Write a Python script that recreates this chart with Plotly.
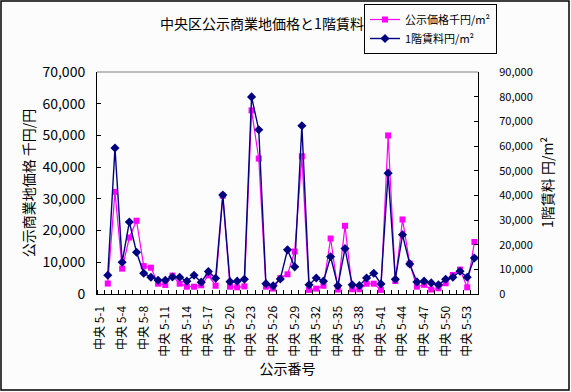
import plotly.graph_objects as go

# ---- data ----
lot_numbers = [1, 2, 3, 4, 5, 6] + list(range(8, 55))
categories = [f"中央 5-{n}" for n in lot_numbers]

land_price = [None, 3300, 32200, 8000, 17800, 23100, 8800, 8300, 3250, 2850,
              5800, 3250, 2300, 2300, 2750, 5900, 2600, 31000, 2300, 2100,
              2400, 57900, 42700, 2300, 1700, 5000, 6200, 13400, 43400, 1300,
              1700, 2600, 17500, 1400, 21500, 1500, 1500, 3250, 3250, 1300,
              50000, 4100, 23500, 9600, 2300, 2900, 1400, 1800, 3400, 6000,
              7700, 2100, 16400]

rent = [None, 7600, 59200, 12900, 29200, 16900, 8400, 6800, 5600, 5600,
        6900, 6800, 5200, 7600, 4800, 9100, 6400, 40100, 5000, 5200,
        6000, 79900, 66600, 4200, 3300, 6100, 17900, 11000, 68200, 3700,
        6500, 5200, 15100, 3300, 18400, 3700, 3400, 6500, 8400, 4100,
        49000, 6000, 24000, 12200, 4900, 5200, 4500, 3700, 6000, 6800,
        9200, 6800, 14600]

label_every = 3
x_pos = list(range(len(categories)))
tick_idx = x_pos[::label_every]
tick_text = [categories[i] for i in tick_idx]

FONT = "Noto Sans CJK JP"
W, H = 571, 392
ML, MR, MT, MB = 97, 93, 72, 98
PW, PH = W - ML - MR, H - MT - MB

fig = go.Figure()
fig.add_trace(go.Scatter(
    x=x_pos, y=land_price, name="公示価格千円/m²", mode="lines+markers",
    line=dict(color="#FF00FF", width=1.2),
    marker=dict(symbol="square", size=6, color="#FF00FF"),
    yaxis="y", connectgaps=False))
fig.add_trace(go.Scatter(
    x=x_pos, y=rent, name="1階賃料円/m²", mode="lines+markers",
    line=dict(color="#000080", width=1.4),
    marker=dict(symbol="diamond", size=7, color="#000080"),
    yaxis="y2", connectgaps=False))

# outer chart border and plot-area top border (styling)
fx0, fx1 = -(ML - 1) / PW, (W - 2 - ML) / PW
fy0, fy1 = -(MB - 2) / PH, 1 + (MT - 1) / PH
fig.add_shape(type="rect", xref="paper", yref="paper",
              x0=fx0, x1=fx1, y0=fy0, y1=fy1,
              line=dict(color="black", width=1.5), layer="above")
fig.add_shape(type="line", xref="paper", yref="paper",
              x0=0, x1=1, y0=1, y1=1, line=dict(color="#808080", width=1.2))

# right-axis title as a rotated annotation
fig.add_annotation(text="1階賃料 円/m²", xref="paper", yref="paper",
                   x=(547 - ML) / PW, y=0.5, textangle=-90, showarrow=False,
                   xanchor="center", yanchor="middle",
                   font=dict(size=14, family=FONT, color="black"))

fig.update_layout(
    width=W, height=H,
    margin=dict(l=ML, r=MR, t=MT, b=MB, autoexpand=False),
    paper_bgcolor="#FCFCFC", plot_bgcolor="#FCFCFC",
    font=dict(family=FONT, size=13, color="black"),
    showlegend=True,
    title=dict(text="中央区公示商業地価格と1階賃料", x=262 / W, xref="container",
               xanchor="center", y=1 - 24 / H, yref="container", yanchor="middle",
               font=dict(size=14, family=FONT)),
    legend=dict(x=364 / W, y=1 - 4 / H, xref="container", yref="container",
                xanchor="left", yanchor="top",
                bordercolor="black", borderwidth=1, bgcolor="#FCFCFC",
                font=dict(size=11, family=FONT), tracegroupgap=0,
                itemwidth=30),
    hovermode=False,
    xaxis=dict(
        range=[-0.5, len(categories) - 0.5],
        tickmode="array", tickvals=tick_idx, ticktext=tick_text,
        tickangle=-90, ticks="", showgrid=False, zeroline=False,
        showline=True, linecolor="black", linewidth=1,
        tickfont=dict(size=12, family=FONT),
        ticklabelstandoff=6,
        minor=dict(tickmode="linear", tick0=-0.5, dtick=1, ticks="inside",
                   ticklen=4, tickcolor="black", showgrid=False),
        title=dict(text="公示番号", font=dict(size=14, family=FONT), standoff=8),
    ),
    yaxis=dict(
        range=[0, 70000], dtick=10000, tickformat=",d",
        ticks="inside", ticklen=4, tickcolor="black",
        showgrid=False, zeroline=False, showline=True, linecolor="black",
        tickfont=dict(size=14, family=FONT), ticklabelstandoff=8,
        title=dict(text="公示商業地価格 千円/円", font=dict(size=14, family=FONT), standoff=4),
    ),
    yaxis2=dict(
        range=[0, 90000], dtick=10000, tickformat=",d", overlaying="y", side="right",
        ticks="inside", ticklen=4, tickcolor="black",
        showgrid=False, zeroline=False, showline=True, linecolor="black",
        tickfont=dict(size=11, family=FONT), ticklabelstandoff=18,
    ),
)

fig.write_html("out.html", config={"displayModeBar": False},
               post_script="document.body.style.margin='0px';")
